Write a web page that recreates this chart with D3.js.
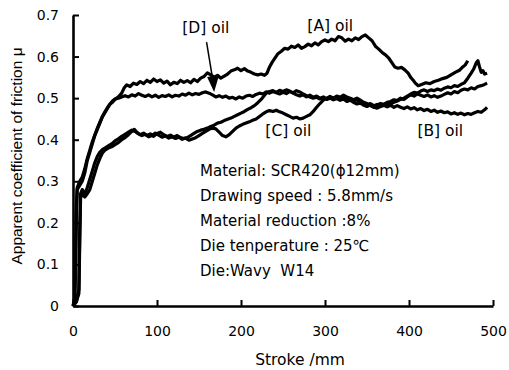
<!DOCTYPE html>
<html>
<head>
<meta charset="utf-8">
<script src="https://cdn.jsdelivr.net/npm/d3@7"></script>
<style>
  body { margin: 0; background: #fff; }
  svg { display: block; }
</style>
</head>
<body>
<div id="chart"></div>
<script>
// stroke (mm) / apparent friction coefficient
const oilA = [[0,0],[2,0.01],[3,0.08],[4,0.22],[5,0.28],[8,0.29],[11,0.30],[14,0.32],[17,0.35],[20,0.37],[23,0.39],[26,0.41],[29,0.425],[32,0.44],[35,0.455],[38,0.465],[41,0.475],[44,0.485],[47,0.49],[50,0.497],[54,0.503],[58,0.512],[61,0.525],[64,0.532],[68,0.528],[72,0.536],[76,0.533],[80,0.54],[84,0.535],[88,0.543],[92,0.538],[96,0.546],[100,0.54],[104,0.544],[108,0.536],[112,0.541],[116,0.532],[120,0.538],[124,0.535],[128,0.543],[132,0.538],[136,0.542],[140,0.537],[144,0.545],[148,0.54],[152,0.548],[156,0.552],[160,0.561],[164,0.556],[168,0.55],[172,0.555],[176,0.548],[180,0.553],[184,0.558],[188,0.565],[192,0.568],[196,0.572],[200,0.566],[204,0.571],[208,0.565],[212,0.562],[216,0.558],[220,0.556],[224,0.558],[228,0.555],[231,0.56],[234,0.575],[237,0.586],[240,0.595],[244,0.607],[248,0.613],[252,0.62],[256,0.618],[260,0.625],[264,0.622],[268,0.628],[272,0.62],[276,0.624],[280,0.63],[284,0.626],[288,0.633],[292,0.628],[296,0.636],[300,0.64],[304,0.636],[308,0.642],[312,0.638],[316,0.648],[320,0.645],[324,0.637],[328,0.642],[332,0.638],[336,0.645],[340,0.641],[344,0.648],[348,0.652],[352,0.645],[356,0.638],[360,0.625],[364,0.618],[368,0.61],[372,0.604],[376,0.596],[380,0.584],[383,0.575],[387,0.572],[391,0.574],[395,0.568],[399,0.56],[402,0.55],[405,0.543],[408,0.535],[411,0.53],[415,0.533],[420,0.537],[425,0.535],[430,0.54],[435,0.543],[440,0.547],[445,0.55],[450,0.556],[455,0.562],[460,0.567],[464,0.575],[467,0.58],[470,0.59]]

const oilB = [[0,0],[4,0.01],[7,0.03],[8,0.15],[9,0.26],[11,0.27],[14,0.262],[17,0.27],[20,0.28],[23,0.3],[26,0.32],[29,0.34],[32,0.355],[35,0.368],[38,0.375],[42,0.38],[46,0.383],[50,0.388],[54,0.393],[58,0.4],[62,0.405],[66,0.412],[70,0.42],[73,0.425],[76,0.418],[80,0.412],[84,0.416],[88,0.41],[92,0.414],[96,0.408],[100,0.415],[104,0.418],[108,0.412],[112,0.408],[116,0.411],[120,0.406],[124,0.41],[128,0.405],[132,0.403],[136,0.405],[140,0.41],[144,0.415],[148,0.42],[152,0.423],[156,0.425],[160,0.428],[164,0.432],[168,0.435],[172,0.44],[176,0.442],[180,0.446],[184,0.449],[188,0.452],[192,0.456],[196,0.46],[200,0.464],[204,0.468],[208,0.473],[212,0.477],[216,0.482],[220,0.489],[224,0.497],[228,0.507],[231,0.514],[234,0.516],[238,0.518],[242,0.514],[246,0.519],[250,0.516],[254,0.52],[258,0.517],[262,0.512],[266,0.508],[270,0.505],[274,0.508],[278,0.503],[282,0.507],[286,0.502],[290,0.505],[294,0.5],[298,0.503],[302,0.498],[306,0.502],[310,0.497],[314,0.501],[318,0.496],[322,0.5],[326,0.495],[330,0.498],[334,0.493],[338,0.496],[342,0.49],[346,0.487],[350,0.484],[354,0.487],[358,0.482],[362,0.485],[366,0.48],[370,0.483],[374,0.479],[378,0.483],[382,0.478],[386,0.482],[390,0.478],[394,0.475],[398,0.479],[402,0.474],[406,0.477],[410,0.472],[414,0.475],[418,0.47],[422,0.473],[426,0.468],[430,0.471],[434,0.466],[438,0.469],[442,0.465],[446,0.467],[450,0.462],[454,0.465],[458,0.461],[462,0.464],[466,0.46],[470,0.463],[474,0.461],[478,0.465],[482,0.468],[486,0.466],[490,0.472],[493,0.478]]

const oilC = [[0,0],[4,0.01],[7,0.04],[8,0.18],[9,0.27],[11,0.28],[14,0.27],[17,0.285],[20,0.305],[23,0.325],[26,0.345],[29,0.36],[32,0.37],[35,0.376],[38,0.38],[42,0.385],[46,0.39],[50,0.397],[54,0.402],[58,0.408],[62,0.413],[66,0.418],[70,0.423],[74,0.42],[78,0.414],[82,0.41],[86,0.413],[90,0.407],[94,0.41],[98,0.416],[102,0.411],[106,0.406],[110,0.409],[114,0.404],[118,0.407],[122,0.403],[126,0.406],[130,0.401],[134,0.404],[138,0.399],[142,0.402],[146,0.405],[150,0.41],[154,0.415],[158,0.42],[162,0.425],[166,0.428],[170,0.426],[174,0.418],[178,0.41],[182,0.407],[186,0.412],[190,0.42],[194,0.428],[198,0.433],[202,0.437],[206,0.44],[210,0.443],[214,0.447],[218,0.45],[222,0.456],[226,0.462],[230,0.467],[234,0.47],[238,0.468],[242,0.471],[246,0.467],[250,0.464],[254,0.46],[258,0.456],[262,0.452],[266,0.454],[270,0.45],[274,0.452],[278,0.456],[282,0.46],[286,0.468],[290,0.478],[294,0.487],[298,0.495],[302,0.5],[306,0.504],[310,0.5],[314,0.505],[318,0.502],[322,0.507],[326,0.503],[330,0.5],[334,0.496],[338,0.5],[342,0.495],[346,0.49],[350,0.487],[354,0.482],[358,0.478],[362,0.476],[366,0.48],[370,0.484],[374,0.488],[378,0.486],[382,0.49],[386,0.493],[390,0.497],[394,0.5],[398,0.505],[402,0.51],[406,0.514],[410,0.512],[414,0.517],[418,0.52],[422,0.516],[426,0.52],[430,0.518],[434,0.522],[438,0.519],[442,0.524],[446,0.527],[450,0.525],[454,0.53],[458,0.528],[462,0.533],[466,0.537],[470,0.548],[474,0.56],[477,0.57],[480,0.585],[482,0.59],[484,0.575],[486,0.562],[488,0.566],[490,0.558],[493,0.56]]

const oilD = [[0,0],[2,0.02],[3,0.1],[4,0.24],[5,0.285],[8,0.3],[11,0.31],[14,0.33],[17,0.355],[20,0.375],[23,0.395],[26,0.412],[29,0.428],[32,0.442],[35,0.456],[38,0.467],[41,0.477],[44,0.486],[47,0.493],[50,0.498],[54,0.5],[58,0.503],[62,0.506],[66,0.503],[70,0.508],[74,0.505],[78,0.511],[82,0.507],[86,0.504],[90,0.508],[94,0.503],[98,0.507],[102,0.502],[106,0.506],[110,0.504],[114,0.508],[118,0.503],[122,0.507],[126,0.505],[130,0.51],[134,0.507],[138,0.512],[142,0.508],[146,0.511],[150,0.509],[154,0.513],[158,0.515],[162,0.512],[166,0.508],[170,0.503],[174,0.506],[178,0.502],[182,0.505],[186,0.5],[190,0.502],[194,0.498],[198,0.503],[202,0.5],[206,0.505],[210,0.507],[214,0.504],[218,0.509],[222,0.512],[226,0.51],[230,0.515],[234,0.512],[238,0.516],[242,0.513],[246,0.51],[250,0.514],[254,0.511],[258,0.516],[262,0.513],[266,0.518],[270,0.515],[274,0.51],[278,0.506],[282,0.503],[286,0.5],[290,0.502],[294,0.498],[298,0.501],[302,0.497],[306,0.5],[310,0.496],[314,0.499],[318,0.495],[322,0.498],[326,0.492],[330,0.495],[334,0.49],[338,0.486],[342,0.488],[346,0.483],[350,0.48],[354,0.484],[358,0.479],[362,0.483],[366,0.487],[370,0.485],[374,0.49],[378,0.492],[382,0.496],[386,0.494],[390,0.5],[394,0.497],[398,0.503],[402,0.508],[406,0.505],[410,0.51],[414,0.507],[418,0.504],[422,0.508],[426,0.503],[430,0.506],[434,0.502],[438,0.505],[442,0.509],[446,0.513],[450,0.51],[454,0.516],[458,0.513],[462,0.519],[466,0.522],[470,0.52],[474,0.525],[478,0.522],[482,0.528],[486,0.53],[490,0.533],[493,0.536]]

const xTicks = [0, 100, 200, 300, 400, 500]
const yTicks = [0, 0.1, 0.2, 0.3, 0.4, 0.5, 0.6, 0.7]

// oil labels: [text, stroke, friction] (anchor = left end of text baseline)
const oilLabels = [['[A] oil', 279, 0.662], ['[D] oil', 130, 0.656], ['[C] oil', 229, 0.409], ['[B] oil', 410, 0.409]]
const notes = ['Material: SCR420(\u03d512mm)', 'Drawing speed : 5.8mm/s', 'Material reduction :8%', 'Die tenperature : 25\u2103', 'Die:Wavy\u00a0\u00a0W14']

const width = 509, height = 370
const margin = { left: 73, right: 16, top: 15, bottom: 64 }
const svg = d3.select('#chart').append('svg').attr('width', width).attr('height', height)

const xScale = d3.scaleLinear().domain([0, 500]).range([margin.left, width - margin.right])
const yScale = d3.scaleLinear().domain([0, 0.7]).range([height - margin.bottom, margin.top])

const tickFont = 'DejaVu Sans, sans-serif'

function drawAxes() {
    const xAxis = d3.axisBottom(xScale).tickValues(xTicks).tickSizeInner(-6).tickSizeOuter(0).tickPadding(20)
    const gx = svg.append('g').attr('transform', `translate(0, ${yScale(0)})`).call(xAxis)
    const yAxis = d3.axisLeft(yScale).tickValues(yTicks).tickSizeInner(-6).tickSizeOuter(0).tickPadding(14)
        .tickFormat(d => d === 0 ? '0' : d3.format('.1f')(d))
    const gy = svg.append('g').attr('transform', `translate(${xScale(0)}, 0)`).call(yAxis)

    ;[gx, gy].forEach(g => {
        g.select('.domain').attr('stroke', '#000').attr('stroke-width', 2.6)
        g.selectAll('.tick line').attr('stroke', '#000').attr('stroke-width', 2)
        g.selectAll('.tick text').attr('fill', '#000').style('font-family', tickFont).style('font-size', '14px')
    })

    svg.append('text')
        .attr('x', (xScale(0) + xScale(500)) / 2 + 17).attr('y', 365)
        .attr('text-anchor', 'middle')
        .style('font-family', tickFont).style('font-size', '15.5px')
        .text('Stroke /mm')

    svg.append('text')
        .attr('transform', 'translate(22, 156) rotate(-90)')
        .attr('text-anchor', 'middle')
        .style('font-family', 'Liberation Sans, Arial, sans-serif').style('font-size', '15.5px')
        .text('Apparent coefficient of friction \u03bc')
}

function drawLines() {
    const line = d3.line().x(d => xScale(d[0])).y(d => yScale(d[1]))
    svg.append('g').selectAll('path')
        .data([oilB, oilC, oilD, oilA])
        .enter()
        .append('path')
        .attr('d', d => line(d))
        .attr('fill', 'none')
        .attr('stroke', '#000')
        .attr('stroke-width', 3.2)
        .attr('stroke-linejoin', 'round')
}

function drawLabels() {
    svg.append('g').selectAll('text')
        .data(oilLabels)
        .enter()
        .append('text')
        .attr('x', d => xScale(d[1])).attr('y', d => yScale(d[2]))
        .style('font-family', tickFont).style('font-size', '15.5px')
        .text(d => d[0])

    // arrow from the [D] label down to its curve, head points down
    const x1 = xScale(159), y1 = yScale(0.635), x2 = xScale(168), y2 = yScale(0.515)
    svg.append('line')
        .attr('x1', x1).attr('y1', y1).attr('x2', x2 - 1).attr('y2', y2 - 10)
        .attr('stroke', '#000').attr('stroke-width', 1.5)
    svg.append('path')
        .attr('d', `M${x2},${y2} L${x2 - 7},${y2 - 15} L${x2 + 5},${y2 - 17} Z`)
        .attr('fill', '#000')

    svg.append('g').selectAll('text')
        .data(notes)
        .enter()
        .append('text')
        .attr('x', 200).attr('y', (d, i) => 176 + i * 25)
        .style('font-family', tickFont).style('font-size', '15px')
        .text(d => d)
}

drawAxes()
drawLines()
drawLabels()
</script>
</body>
</html>
